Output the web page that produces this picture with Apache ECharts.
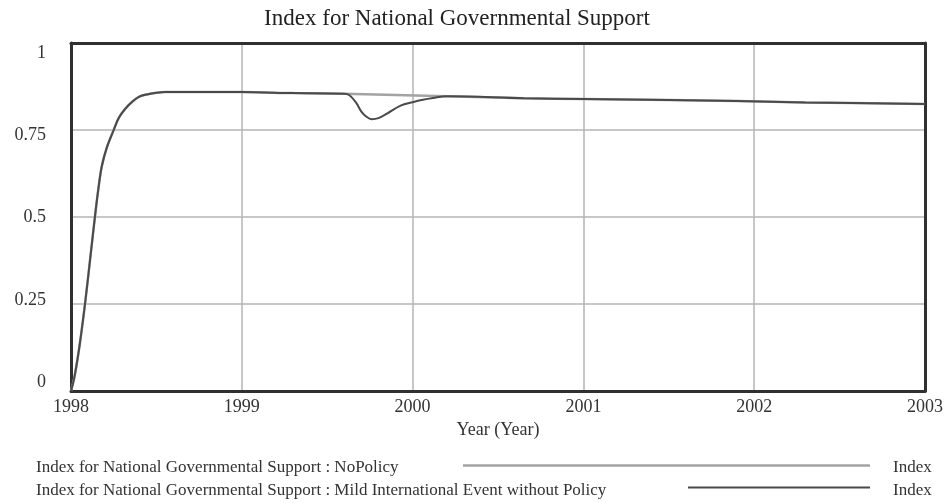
<!DOCTYPE html>
<html>
<head>
<meta charset="utf-8">
<style>
  html, body { margin: 0; padding: 0; background: #ffffff; }
  #chart { width: 950px; height: 503px; }
</style>
<script src="https://cdn.jsdelivr.net/npm/echarts@6/dist/echarts.min.js"></script>
</head>
<body>
<div id="chart"></div>
<script>
// Simulation time (years) and the index value for the NoPolicy run
const noPolicyTime = [1998.00, 1998.02, 1998.05, 1998.082, 1998.11, 1998.14, 1998.16, 1998.18, 1998.21,
  1998.25, 1998.28, 1998.316, 1998.36, 1998.40, 1998.45, 1998.50, 1998.55, 1999.00, 1999.30, 1999.60,
  2000.20, 2000.65, 2001.00, 2001.50, 2001.90, 2002.30, 2003.00];
const noPolicyValue = [0, 0.04, 0.13, 0.25, 0.37, 0.50, 0.58, 0.645, 0.70,
  0.75, 0.785, 0.81, 0.832, 0.846, 0.853, 0.857, 0.859, 0.859, 0.856, 0.854,
  0.847, 0.841, 0.839, 0.836, 0.833, 0.829, 0.825];

// Same run with a mild international event (dip around late 1999)
const mildEventTime = [1998.00, 1998.02, 1998.05, 1998.082, 1998.11, 1998.14, 1998.16, 1998.18, 1998.21,
  1998.25, 1998.28, 1998.316, 1998.36, 1998.40, 1998.45, 1998.50, 1998.55, 1999.00, 1999.30, 1999.60,
  1999.63, 1999.67, 1999.70, 1999.73, 1999.76, 1999.80, 1999.85, 1999.93, 2000.00, 2000.06, 2000.12,
  2000.20, 2000.65, 2001.00, 2001.50, 2001.90, 2002.30, 2003.00];
const mildEventValue = [0, 0.04, 0.13, 0.25, 0.37, 0.50, 0.58, 0.645, 0.70,
  0.75, 0.785, 0.81, 0.832, 0.846, 0.853, 0.857, 0.859, 0.859, 0.856, 0.854,
  0.850, 0.828, 0.803, 0.788, 0.781, 0.784, 0.797, 0.820, 0.830, 0.837, 0.842,
  0.847, 0.841, 0.839, 0.836, 0.833, 0.829, 0.825];

const yTickLabels = ['0', '0.25', '0.5', '0.75', '1'];
// labels sit on an evenly spaced column slightly tighter than the grid
const yLabelShift = [-9, -4, 0, 5, 10];
const seriesNames = [
  'Index for National Governmental Support : NoPolicy',
  'Index for National Governmental Support : Mild International Event without Policy'
];
const seriesUnits = ['Index', 'Index'];

const serif = '"Liberation Serif", "DejaVu Serif", serif';
const textColor = '#333333';
const frameColor = '#303030';
const gridColor = '#b4b4b4';
const colors = ['#a3a3a3', '#4a4a4a'];

const pair = (xs, ys) => xs.map((x, i) => [x, ys[i]]);

// rich styles that nudge each y label up or down
const yRich = {};
yLabelShift.forEach((d, i) => {
  yRich['l' + i] = {
    fontFamily: serif, fontSize: 18, color: textColor,
    padding: d >= 0 ? [2 * d, 0, 0, 0] : [0, 0, -2 * d, 0]
  };
});

// plain frame axis (top / right edges of the plot box)
const frameAxis = (extra) => Object.assign({
  type: 'value',
  axisLine: { show: true, onZero: false, lineStyle: { color: frameColor, width: 3 } },
  axisTick: { show: false },
  axisLabel: { show: false },
  splitLine: { show: false }
}, extra);

const chart = echarts.init(document.getElementById('chart'), null, { renderer: 'canvas' });

chart.setOption({
  animation: false,
  backgroundColor: '#ffffff',
  title: {
    text: 'Index for National Governmental Support',
    left: 452,
    top: 2,
    textAlign: 'center',
    textStyle: { fontFamily: serif, fontSize: 23, fontWeight: 'normal', color: '#222222' }
  },
  grid: { left: 71, right: 25, top: 43, bottom: 112 },
  xAxis: [
    {
      type: 'value',
      min: 1998, max: 2003, interval: 1,
      name: 'Year (Year)',
      nameLocation: 'middle',
      nameGap: 30,
      nameTextStyle: { fontFamily: serif, fontSize: 18, color: textColor },
      axisLine: { show: true, onZero: false, lineStyle: { color: frameColor, width: 3 } },
      axisTick: { show: false },
      axisLabel: {
        margin: 7,
        fontFamily: serif, fontSize: 18, color: textColor,
        formatter: v => String(Math.round(v))
      },
      splitLine: { show: true, lineStyle: { color: gridColor, width: 1.5 } }
    },
    frameAxis({ position: 'top', min: 1998, max: 2003, interval: 1 })
  ],
  yAxis: [
    {
      type: 'value',
      min: 0, max: 1, interval: 0.25,
      axisLine: { show: true, onZero: false, lineStyle: { color: frameColor, width: 3 } },
      axisTick: { show: false },
      axisLabel: {
        margin: 25,
        fontFamily: serif, fontSize: 18, color: textColor,
        formatter: v => {
          const i = Math.round(v / 0.25);
          return '{l' + i + '|' + yTickLabels[i] + '}';
        },
        rich: yRich
      },
      splitLine: { show: true, lineStyle: { color: gridColor, width: 1.5 } }
    },
    frameAxis({ position: 'right', min: 0, max: 1, interval: 0.25 })
  ],
  series: [
    {
      name: seriesNames[0],
      type: 'line',
      data: pair(noPolicyTime, noPolicyValue),
      showSymbol: false,
      smooth: 0.35,
      lineStyle: { color: colors[0], width: 2.5 },
      z: 2
    },
    {
      name: seriesNames[1],
      type: 'line',
      data: pair(mildEventTime, mildEventValue),
      showSymbol: false,
      smooth: 0.35,
      lineStyle: { color: colors[1], width: 2 },
      z: 3
    }
  ],
  graphic: [
    // legend rows: series name, sample stroke, unit
    { type: 'text', left: 36, top: 459, style: { text: seriesNames[0], font: '17px ' + serif, fill: textColor } },
    { type: 'line', shape: { x1: 463, y1: 465.5, x2: 870, y2: 465.5 }, style: { stroke: colors[0], lineWidth: 2.5 } },
    { type: 'text', left: 893, top: 459, style: { text: seriesUnits[0], font: '17px ' + serif, fill: textColor } },
    { type: 'text', left: 36, top: 482, style: { text: seriesNames[1], font: '17px ' + serif, fill: textColor } },
    { type: 'line', shape: { x1: 688, y1: 487.5, x2: 870, y2: 487.5 }, style: { stroke: colors[1], lineWidth: 2 } },
    { type: 'text', left: 893, top: 482, style: { text: seriesUnits[1], font: '17px ' + serif, fill: textColor } }
  ]
});
</script>
</body>
</html>
